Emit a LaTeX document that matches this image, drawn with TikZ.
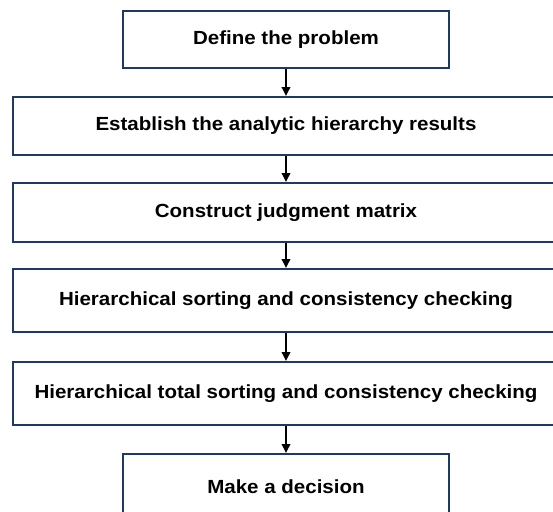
\documentclass[tikz,border=0pt]{standalone}
\usepackage{fontspec}
\setmainfont{Liberation Sans}[FakeStretch=1.08]
\usepackage{tikz}
\usetikzlibrary{arrows.meta}
\definecolor{boxnavy}{RGB}{31,56,100}
\tikzset{
	stepbox/.style={draw=boxnavy, line width=2pt, fill=white, inner sep=0pt,
		font=\fontsize{19}{20}\selectfont\bfseries, text=black},
	narrowbox/.style={stepbox, minimum width=326pt},
	widebox/.style={stepbox, minimum width=546pt},
	steparrow/.style={line width=1.8pt, -{Triangle[length=9pt,width=8.5pt]}}
}
\begin{document}
\begin{tikzpicture}[x=1pt, y=1pt]
		%%%%% START %%%%%
		
		\clip (0, 0) rectangle (553, -511);
		\fill[white] (0, 0) rectangle (553, -511);
		
		\node[narrowbox, minimum height=57pt] (define) at (286, -39.5) {Define the problem};
		\node[widebox, minimum height=58pt] (establish) at (286, -126) {Establish the analytic hierarchy results};
		\node[widebox, minimum height=59pt] (construct) at (286, -212.5) {Construct judgment matrix};
		\node[widebox, minimum height=63pt] (sorting) at (286, -300.5) {Hierarchical sorting and consistency checking};
		\node[widebox, minimum height=63pt] (total) at (286, -393.5) {Hierarchical total sorting and consistency checking};
		\node[narrowbox, minimum height=66pt] (decision) at (286, -487) {Make a decision};
		
		\draw[steparrow] (define) -- (establish);
		\draw[steparrow] (establish) -- (construct);
		\draw[steparrow] (construct) -- (sorting);
		\draw[steparrow] (sorting) -- (total);
		\draw[steparrow] (total) -- (decision);
		
		%%%%% END %%%%%
	\end{tikzpicture}
\end{document}
